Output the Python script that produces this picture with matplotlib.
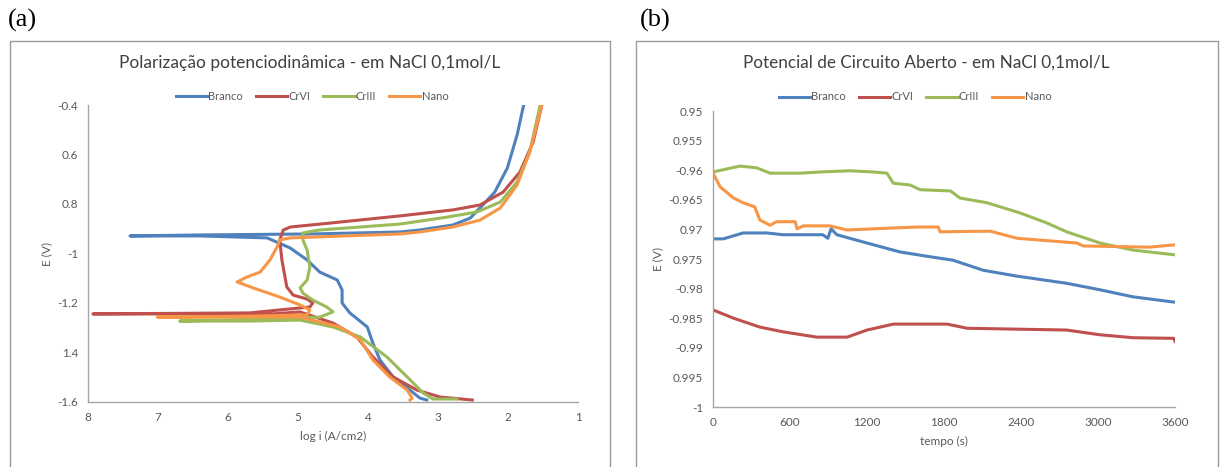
import matplotlib.pyplot as plt
from matplotlib.patches import Rectangle

plt.rcParams['font.family'] = ['Lato', 'DejaVu Sans']

BLUE = '#4F81BD'
RED = '#C0504D'
GREEN = '#9BBB59'
ORANGE = '#F79646'
GRAY_TXT = '#595959'
GRAY_LINE = '#a6a6a6'

series_names = ['Branco', 'CrVI', 'CrIII', 'Nano']

# (a) polarization: -log i (A/cm2) and E (V), path from cathodic end to anodic end
branco_logi = [3.16, 3.26, 3.40, 3.64, 3.83, 3.93, 4.01, 4.26, 4.37, 4.37, 4.44, 4.69,
               4.87, 5.11, 5.44, 6.40, 7.40, 6.40, 4.79, 3.54, 3.26, 2.79, 2.54, 2.36,
               2.19, 2.01, 1.87, 1.77]
branco_e = [-1.592, -1.584, -1.552, -1.499, -1.430, -1.362, -1.297, -1.240, -1.200, -1.147,
            -1.107, -1.075, -1.026, -0.978, -0.937, -0.929, -0.929, -0.925, -0.921, -0.913,
            -0.905, -0.885, -0.857, -0.804, -0.752, -0.655, -0.521, -0.392]

crvi_logi = [2.51, 2.97, 3.30, 3.64, 3.93, 4.16, 4.50, 4.97, 5.36, 7.93, 5.69, 4.83, 4.79,
             4.87, 5.07, 5.16, 5.23, 5.26, 5.21, 5.11, 4.54, 3.54, 2.79, 2.40, 2.07, 1.83,
             1.64, 1.51]
crvi_e = [-1.592, -1.580, -1.552, -1.499, -1.418, -1.337, -1.281, -1.236, -1.244, -1.244,
          -1.240, -1.216, -1.200, -1.184, -1.168, -1.135, -1.026, -0.945, -0.905, -0.893,
          -0.877, -0.848, -0.824, -0.804, -0.752, -0.671, -0.549, -0.392]

criii_logi = [2.73, 3.07, 3.21, 3.44, 3.73, 4.11, 4.50, 4.97, 5.69, 6.69, 5.54, 4.69, 4.50,
              4.59, 4.79, 4.93, 4.97, 4.87, 4.83, 4.87, 4.93, 4.93, 4.69, 3.54, 2.87, 2.44,
              2.11, 1.87, 1.69, 1.54, 1.53]
criii_e = [-1.588, -1.588, -1.564, -1.499, -1.418, -1.337, -1.297, -1.269, -1.273, -1.273,
           -1.265, -1.257, -1.236, -1.216, -1.188, -1.160, -1.139, -1.107, -1.055, -0.986,
           -0.945, -0.917, -0.905, -0.881, -0.853, -0.832, -0.792, -0.711, -0.590, -0.400,
           -0.380]

nano_logi = [3.40, 3.37, 3.44, 3.69, 3.93, 4.11, 4.40, 4.97, 5.69, 7.01, 5.69, 4.87, 4.83,
             4.97, 5.26, 5.64, 5.87, 5.73, 5.54, 5.40, 5.30, 5.26, 5.11, 3.54, 3.26, 2.79,
             2.40, 2.11, 1.87, 1.69, 1.51]
nano_e = [-1.592, -1.584, -1.552, -1.499, -1.430, -1.349, -1.297, -1.257, -1.257, -1.257,
          -1.253, -1.248, -1.228, -1.208, -1.176, -1.139, -1.115, -1.095, -1.075, -1.026,
          -0.974, -0.945, -0.937, -0.921, -0.913, -0.893, -0.865, -0.816, -0.723, -0.590,
          -0.392]

pol_yticks = [-0.4, -0.6, -0.8, -1.0, -1.2, -1.4, -1.6]
pol_ylabels = ['-0.4', '0.6', '0.8', '-1', '-1.2', '1.4', '-1.6']
pol_xticks = [8, 7, 6, 5, 4, 3, 2, 1]

# (b) open circuit potential: time (s) and E (V)
branco_t = [0, 80, 235, 420, 545, 855, 895, 920, 965, 1200, 1455, 1715, 1870, 2105, 2370,
            2755, 3015, 3275, 3600]
branco_ocp = [-0.9716, -0.9716, -0.9706, -0.9706, -0.9709, -0.9709, -0.9715, -0.9699,
              -0.9709, -0.9723, -0.9738, -0.9747, -0.9752, -0.9769, -0.9779, -0.9791,
              -0.9802, -0.9814, -0.9823]

crvi_t = [0, 160, 365, 545, 810, 1045, 1200, 1405, 1825, 1980, 2755, 3015, 3275, 3590, 3600]
crvi_ocp = [-0.9836, -0.9850, -0.9865, -0.9873, -0.9882, -0.9882, -0.9870, -0.9860,
            -0.9860, -0.9867, -0.9870, -0.9878, -0.9883, -0.9884, -0.9889]

criii_t = [0, 210, 340, 445, 680, 835, 1070, 1250, 1355, 1405, 1535, 1615, 1850, 1925,
           2135, 2390, 2600, 2755, 3015, 3275, 3600]
criii_ocp = [-0.9603, -0.9593, -0.9596, -0.9605, -0.9605, -0.9603, -0.9601, -0.9603,
             -0.9605, -0.9622, -0.9625, -0.9633, -0.9635, -0.9647, -0.9655, -0.9672,
             -0.9689, -0.9704, -0.9723, -0.9735, -0.9743]

nano_t = [0, 55, 160, 235, 325, 365, 445, 495, 640, 655, 705, 910, 1045, 1355, 1590, 1755,
          1770, 2160, 2370, 2835, 2885, 3400, 3600]
nano_ocp = [-0.9605, -0.9628, -0.9647, -0.9655, -0.9662, -0.9684, -0.9693, -0.9687,
            -0.9687, -0.9699, -0.9694, -0.9694, -0.9701, -0.9698, -0.9696, -0.9696,
            -0.9704, -0.9703, -0.9715, -0.9723, -0.9728, -0.9730, -0.9726]

ocp_yticks = [-0.95, -0.955, -0.96, -0.965, -0.97, -0.975, -0.98, -0.985, -0.99, -0.995, -1.0]
ocp_ylabels = ['0.95', '0.955', '-0.96', '-0.965', '0.97', '0.975', '-0.98', '-0.985',
               '-0.99', '0.995', '-1']
ocp_xticks = [0, 600, 1200, 1800, 2400, 3000, 3600]

colors = [BLUE, RED, GREEN, ORANGE]

fig = plt.figure(figsize=(12.22, 4.67), dpi=100)

# panel frames
for x0, x1 in [(10, 610), (636, 1218)]:
    fig.patches.append(Rectangle((x0 / 1222, -0.01), (x1 - x0) / 1222, 1 - 41 / 467 + 0.01,
                                 transform=fig.transFigure, fill=False,
                                 edgecolor='#9a9a9a', linewidth=1.0))

fig.text(8 / 1222, 1 - 20 / 467, '(a)', family='Liberation Serif', fontsize=19, va='center')
fig.text(640 / 1222, 1 - 20 / 467, '(b)', family='Liberation Serif', fontsize=19, va='center')


def style_axes(ax):
    for s in ['top', 'right']:
        ax.spines[s].set_visible(False)
    for s in ['left', 'bottom']:
        ax.spines[s].set_color(GRAY_LINE)
        ax.spines[s].set_linewidth(1.0)
    ax.tick_params(length=0, labelsize=8.5, labelcolor=GRAY_TXT, pad=7)


# (a)
ax1 = fig.add_axes([88 / 1222, 1 - 402 / 467, 490 / 1222, 297 / 467])
pol_x = [branco_logi, crvi_logi, criii_logi, nano_logi]
pol_y = [branco_e, crvi_e, criii_e, nano_e]
for name, xs, ys, c in zip(series_names, pol_x, pol_y, colors):
    ax1.plot(xs, ys, color=c, lw=2.2, label=name, solid_joinstyle='round')
ax1.set_xlim(8, 1)
ax1.set_ylim(-1.6, -0.4)
ax1.set_xticks(pol_xticks)
ax1.set_xticklabels([str(v) for v in pol_xticks])
ax1.set_yticks(pol_yticks)
ax1.set_yticklabels(pol_ylabels)
style_axes(ax1)
ax1.set_xlabel('log i (A/cm2)', fontsize=8.5, color=GRAY_TXT, labelpad=6)
ax1.set_ylabel('E (V)', fontsize=8.5, color=GRAY_TXT, labelpad=4)
fig.text(310 / 1222, 1 - 63 / 467, 'Polarização potenciodinâmica - em NaCl 0,1mol/L',
         ha='center', va='center', fontsize=12.5, color='#404040')
fig.legend(*ax1.get_legend_handles_labels(), loc='center', ncol=4,
           bbox_to_anchor=(312 / 1222, 1 - 96 / 467), frameon=False, fontsize=8,
           labelcolor=GRAY_TXT, handlelength=2.8, handletextpad=0.1, columnspacing=1.2)

# (b)
ax2 = fig.add_axes([713 / 1222, 1 - 407 / 467, 462 / 1222, 296 / 467])
ocp_x = [branco_t, crvi_t, criii_t, nano_t]
ocp_y = [branco_ocp, crvi_ocp, criii_ocp, nano_ocp]
for name, xs, ys, c in zip(series_names, ocp_x, ocp_y, colors):
    ax2.plot(xs, ys, color=c, lw=2.2, label=name)
ax2.set_xlim(0, 3600)
ax2.set_ylim(-1.0, -0.95)
ax2.set_xticks(ocp_xticks)
ax2.set_xticklabels([str(v) for v in ocp_xticks])
ax2.set_yticks(ocp_yticks)
ax2.set_yticklabels(ocp_ylabels)
style_axes(ax2)
ax2.set_xlabel('tempo (s)', fontsize=8.5, color=GRAY_TXT, labelpad=6)
ax2.set_ylabel('E (V)', fontsize=8.5, color=GRAY_TXT, labelpad=4)
fig.text(926 / 1222, 1 - 63 / 467, 'Potencial de Circuito Aberto - em NaCl 0,1mol/L',
         ha='center', va='center', fontsize=12.3, color='#404040')
fig.legend(*ax2.get_legend_handles_labels(), loc='center', ncol=4,
           bbox_to_anchor=(915 / 1222, 1 - 97 / 467), frameon=False, fontsize=8,
           labelcolor=GRAY_TXT, handlelength=2.8, handletextpad=0.1, columnspacing=1.2)

fig.savefig('out.png', dpi=100)
